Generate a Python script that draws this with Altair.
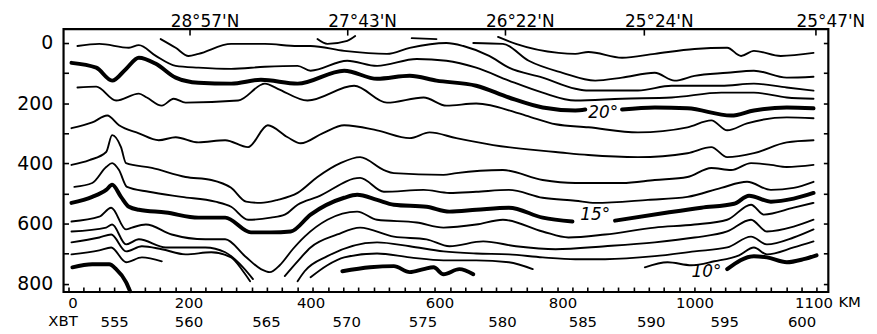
import altair as alt
import pandas as pd

# ---------------- isotherm traces: x = XBT station position, d = depth (m) ----------------
t24_x = [580.13, 581.30, 584.09, 585.19, 586.04, 588.25, 590.39, 592.99, 595.13, 596.04, 596.88, 598.64, 600.78]
t24_d = [-20, 3, 33, 36, 30, 49, 36, 20, 16, 43, 26, 43, 33]

t23_x = [578.51, 580.45, 582.14, 584.35, 586.49, 588.25, 590.39, 591.69, 592.99, 595.13, 596.88, 599.03, 600.78]
t23_d = [0, 3, 59, 99, 125, 115, 99, 125, 109, 99, 92, 115, 112]

t23a_x = [568.31, 568.96, 570.26, 570.78]
t23a_d = [-13, 3, -7, -23]
t23b_x = [574.48, 576.10]
t23b_d = [-16, -13]

t22_x = [558.05, 559.03, 559.87, 560.52, 562.66, 564.87, 567.01, 567.86, 570.06, 572.86, 574.35, 576.75,
         577.86, 579.55, 580.84, 583.05, 585.19, 586.04, 589.29, 591.49, 594.74, 596.88, 599.03, 600.78]
t22_d = [-13, 16, 43, 36, 3, 3, 10, 10, 26, 36, 16, 0, 10, 43, 82, 115, 152, 158, 158, 142, 142, 135, 148, 158]

t21_x = [552.60, 554.03, 555.97, 556.62, 557.73, 559.03, 560.52, 562.66, 564.87, 567.01, 567.86, 570.26, 572.21,
         574.81, 576.75, 578.70, 580.84, 583.05, 585.19, 588.25, 591.49, 594.74, 596.88, 599.03, 600.78]
t21_d = [10, 3, 16, 7, 43, 76, 82, 86, 79, 76, 92, 59, 76, 53, 59, 82, 125, 165, 191, 185, 181, 165, 165, 181, 185]

t20a_x = [552.21, 553.83, 554.87, 555.78, 556.62, 557.73, 559.03, 560.52, 562.66, 564.61, 567.01, 570.06, 572.21,
          574.35, 576.10, 578.70, 580.84, 583.05, 585.19, 585.84]
t20a_d = [66, 82, 125, 86, 49, 69, 115, 132, 135, 122, 135, 92, 119, 109, 125, 142, 181, 214, 224, 221]
t20b_x = [588.25, 590.39, 592.53, 595.39, 596.88, 599.03, 600.78]
t20b_d = [221, 214, 217, 241, 224, 214, 217]

t19_x = [552.60, 553.83, 555.13, 556.62, 557.14, 558.12, 558.90, 559.68, 563.12, 564.87, 565.71, 567.66, 570.71,
         572.86, 575.26, 576.75, 578.70, 581.95, 583.90, 586.04, 589.29, 592.53, 594.09, 595.13, 596.43, 599.03, 600.78]
t19_d = [148, 145, 191, 168, 181, 208, 185, 198, 191, 135, 152, 191, 142, 198, 181, 208, 201, 241, 270, 280, 297,
         280, 257, 290, 267, 247, 250]

t18_x = [552.21, 553.57, 554.55, 555.32, 556.62, 557.92, 559.03, 560.52, 562.27, 563.77, 565.06, 566.36, 567.21,
         568.64, 570.06, 572.21, 574.35, 575.65, 577.40, 579.81, 582.60, 583.90, 586.04, 589.29, 592.53, 594.09,
         595.13, 596.88, 599.03, 600.78]
t18_d = [283, 264, 241, 273, 300, 323, 313, 330, 323, 346, 273, 313, 333, 300, 273, 290, 316, 297, 316, 339, 356,
         362, 372, 379, 366, 346, 379, 366, 330, 323]

t17_x = [552.21, 553.38, 554.48, 554.87, 555.45, 555.78, 557.47, 559.68, 561.36, 562.66, 563.64, 564.61, 565.71,
         567.01, 568.31, 569.81, 571.10, 572.66, 573.31, 576.56, 577.40, 580.45, 583.05, 585.19, 588.25, 590.39,
         592.53, 594.09, 595.39, 596.69, 597.99, 599.03, 600.78]
t17_d = [405, 389, 362, 306, 346, 399, 415, 445, 455, 481, 527, 531, 521, 498, 445, 399, 379, 422, 432, 438, 432,
         422, 455, 465, 465, 455, 445, 415, 422, 399, 405, 412, 405]

t16_x = [552.40, 553.57, 554.48, 554.87, 555.32, 555.84, 557.27, 559.42, 561.62, 562.66, 563.77, 565.26, 566.17,
         567.01, 568.31, 571.10, 572.66, 575.26, 576.95, 578.70, 580.84, 583.05, 585.19, 586.49, 589.94, 592.53,
         594.74, 596.43, 597.99, 599.48, 600.78]
t16_d = [478, 465, 412, 399, 422, 478, 494, 511, 527, 544, 587, 580, 570, 537, 511, 448, 494, 488, 498, 494, 488,
         514, 524, 531, 521, 511, 481, 461, 488, 481, 461]

t15a_x = [552.21, 553.57, 554.48, 554.87, 555.45, 555.97, 556.62, 558.38, 560.52, 562.27, 563.96, 565.26, 566.56,
          567.86, 570.06, 570.91, 572.21, 573.31, 575.45, 576.95, 578.70, 580.84, 583.05, 585.00]
t15a_d = [531, 511, 488, 471, 511, 544, 554, 563, 580, 580, 629, 629, 626, 570, 514, 504, 521, 537, 544, 560, 554,
          547, 580, 593]
t15b_x = [587.79, 591.23, 593.44, 595.58, 596.56, 597.99, 599.48, 600.78]
t15b_d = [590, 563, 547, 534, 507, 527, 517, 498]

t14_x = [552.21, 554.03, 554.81, 555.78, 556.17, 557.08, 558.77, 560.97, 562.27, 563.57, 564.61, 565.19, 565.84,
         566.69, 567.47, 568.96, 570.91, 572.21, 574.81, 576.56, 578.70, 580.45, 583.05, 584.74, 587.14, 590.39,
         592.99, 595.13, 596.69, 597.53, 599.48, 600.78]
t14_d = [593, 577, 547, 619, 613, 603, 636, 652, 652, 708, 751, 761, 738, 685, 643, 587, 560, 587, 596, 613, 603,
         587, 626, 646, 636, 613, 603, 587, 537, 570, 547, 531]

t13a_x = [552.21, 554.48, 554.87, 555.78, 556.62, 558.38, 560.97, 562.27, 563.44, 564.09]
t13a_d = [626, 613, 603, 669, 652, 679, 679, 695, 745, 784]
t13b_x = [566.17, 567.01, 567.86, 569.61, 571.10, 573.31, 575.45, 576.95, 579.16, 581.30, 583.90, 587.14, 590.39,
          592.99, 595.13, 596.69, 597.73, 599.48, 600.78]
t13b_d = [774, 725, 679, 636, 613, 643, 652, 675, 659, 675, 685, 675, 662, 646, 626, 587, 626, 610, 587]

t12a_x = [552.21, 554.03, 554.81, 555.78, 556.82, 558.12, 559.68, 561.36, 562.66, 563.44, 563.90]
t12a_d = [662, 646, 636, 692, 675, 685, 702, 695, 712, 758, 791]
t12b_x = [567.01, 567.47, 568.96, 572.21, 574.35, 576.56, 578.70, 580.84, 583.05, 585.19, 587.14, 590.39, 592.99,
          595.13, 596.69, 597.73, 599.48, 600.78]
t12b_d = [791, 758, 708, 662, 675, 692, 699, 702, 712, 718, 718, 708, 692, 679, 643, 669, 646, 619]

t11a_x = [552.21, 554.03, 554.81, 555.78, 556.82, 558.12]
t11a_d = [702, 689, 679, 728, 712, 725]
t11b_x = [567.86, 568.96, 570.06, 572.21, 574.35, 576.56, 578.70, 580.84, 582.40]
t11b_d = [778, 738, 712, 699, 712, 722, 722, 728, 751]
t11c_x = [589.74, 591.23, 592.79, 594.29, 595.91, 596.88, 597.73, 599.48, 600.78]
t11c_d = [745, 728, 738, 725, 705, 679, 702, 679, 659]

t10a_x = [552.27, 553.57, 554.68, 555.13, 555.78, 556.04]
t10a_d = [745, 735, 735, 751, 794, 824]
t10b_x = [569.94, 571.75, 573.31, 574.35, 575.26, 575.91, 576.56, 577.60, 578.51]
t10b_d = [758, 745, 741, 761, 751, 745, 768, 751, 768]
t10c_x = [595.13, 596.88, 597.73, 599.03, 600.13, 600.98]
t10c_d = [751, 708, 712, 728, 718, 705]

segments = [
    (24, t24_x, t24_d), (23, t23_x, t23_d), (23, t23a_x, t23a_d), (23, t23b_x, t23b_d),
    (22, t22_x, t22_d), (21, t21_x, t21_d), (20, t20a_x, t20a_d), (20, t20b_x, t20b_d),
    (19, t19_x, t19_d), (18, t18_x, t18_d), (17, t17_x, t17_d), (16, t16_x, t16_d),
    (15, t15a_x, t15a_d), (15, t15b_x, t15b_d), (14, t14_x, t14_d),
    (13, t13a_x, t13a_d), (13, t13b_x, t13b_d), (12, t12a_x, t12a_d), (12, t12b_x, t12b_d),
    (11, t11a_x, t11a_d), (11, t11b_x, t11b_d), (11, t11c_x, t11c_d),
    (10, t10a_x, t10a_d), (10, t10b_x, t10b_d), (10, t10c_x, t10c_d),
]

# isotherm labels
iso_label_t = [20, 15, 10]
iso_label_x = [587.01, 586.49, 593.77]
iso_label_d = [231, 573, 761]

# axes
station_ticks = list(range(552, 602))
depth_ticks = list(range(0, 801, 100))
depth_labels = [0, 200, 400, 600, 800]
km_pos = [552.27, 559.87, 567.86, 576.30, 584.35, 592.99, 600.78]
km_text = ["0", "200", "400", "600", "800", "1000", "1100"]
xbt_pos = [555.0, 559.87, 564.94, 570.19, 575.19, 580.39, 585.65, 590.13, 594.94, 600.0]
xbt_text = ["555", "560", "565", "570", "575", "580", "585", "590", "595", "600"]
lat_pos = [559.94, 570.26, 580.58, 589.68, 600.91]
lat_text = ["28°57'N", "27°43'N", "26°22'N", "25°24'N", "25°47'N"]

rows = []
for i, (t, xs, ds) in enumerate(segments):
    for x, d in zip(xs, ds):
        rows.append({"seg": i, "t": t, "s": x, "d": d})
df = pd.DataFrame(rows)

lab_df = pd.DataFrame({"s": iso_label_x, "d": iso_label_d,
                       "txt": [f"{t}°" for t in iso_label_t]})


def lookup(pos, txt):
    p = ",".join(repr(v) for v in pos)
    t = ",".join('"' + s + '"' for s in txt)
    return f"[{t}][indexof([{p}], datum.value)]"


FONT = "DejaVu Sans"
xscale = alt.Scale(domain=[551.69, 601.75], nice=False, zero=False)
yscale = alt.Scale(domain=[-46, 827], reverse=True, nice=False, zero=False)
common = dict(grid=False, tickColor="black", domain=False, labelColor="black", labelFont=FONT)

lines = alt.Chart(df).mark_line(color="black", interpolate="monotone", strokeCap="round",
                                strokeJoin="round").encode(
    x=alt.X("s:Q", scale=xscale, axis=alt.Axis(orient="bottom", values=station_ticks, labels=False,
                                                 tickSize=5, offset=-5, tickWidth=1.6, title=None, **common)),
    y=alt.Y("d:Q", scale=yscale, axis=alt.Axis(orient="left", values=depth_labels, ticks=False,
                                                 labelPadding=11, labelFontSize=19, title=None,
                                                 labelOverlap=False, **common)),
    detail="seg:N",
    strokeWidth=alt.condition("datum.t % 5 == 0", alt.value(4.0), alt.value(1.9)),
)

km_axis = alt.Chart(df).mark_point(opacity=0).encode(
    x=alt.X("s:Q", scale=xscale, axis=alt.Axis(orient="bottom", values=km_pos, labelExpr=lookup(km_pos, km_text),
                                                 ticks=False, labelPadding=4, labelFontSize=15,
                                                 labelOverlap=False, labelFlush=False, title="KM",
                                                 titleX=792, titleY=10, titleAlign="center",
                                                 titleBaseline="middle", titleFontSize=15,
                                                 titleFontWeight="normal", titleAngle=0, titleFont=FONT,
                                                 titleColor="black", **common)),
    y=alt.Y("d:Q", scale=yscale, axis=alt.Axis(orient="left", values=depth_ticks, labels=False, tickSize=5,
                                                 offset=-5, tickWidth=1.6, title=None, **common)),
)

xbt_axis = alt.Chart(df).mark_point(opacity=0).encode(
    x=alt.X("s:Q", scale=xscale, axis=alt.Axis(orient="bottom", values=xbt_pos, labelExpr=lookup(xbt_pos, xbt_text),
                                                 ticks=False, labelPadding=23, labelFontSize=15,
                                                 labelOverlap=False, labelFlush=False, title="XBT",
                                                 titleX=-1, titleY=29, titleAlign="center",
                                                 titleBaseline="middle", titleFontSize=15,
                                                 titleFontWeight="normal", titleAngle=0, titleFont=FONT,
                                                 titleColor="black", **common)),
    y=alt.Y("d:Q", scale=yscale, axis=alt.Axis(orient="right", values=depth_ticks, labels=False, tickSize=5,
                                                 offset=-5, tickWidth=1.6, title=None, **common)),
)

top_axis = alt.Chart(df).mark_point(opacity=0).encode(
    x=alt.X("s:Q", scale=xscale, axis=alt.Axis(orient="top", values=lat_pos, labelExpr=lookup(lat_pos, lat_text),
                                                 tickSize=6, offset=-6, tickWidth=1.6, labelPadding=3,
                                                 labelBaseline="alphabetic", labelOffset=15, labelFontSize=17,
                                                 labelOverlap=False, labelFlush=False, title=None, **common)),
    y=alt.Y("d:Q", scale=yscale, axis=None),
)

labels = alt.Chart(lab_df).mark_text(font=FONT, fontStyle="italic", fontSize=17, color="black").encode(
    x=alt.X("s:Q", scale=xscale, axis=None),
    y=alt.Y("d:Q", scale=yscale, axis=None),
    text="txt:N",
)

chart = alt.layer(lines, km_axis, xbt_axis, top_axis, labels).resolve_axis(
    x="independent", y="independent"
).properties(
    width=771, height=265,
    padding={"left": 56, "top": 20, "right": 41, "bottom": 38},
    autosize=alt.AutoSizeParams(type="none"),
).configure_view(stroke="black", strokeWidth=2.2)

chart.save("out.html", embed_options={"renderer": "svg", "actions": False})
